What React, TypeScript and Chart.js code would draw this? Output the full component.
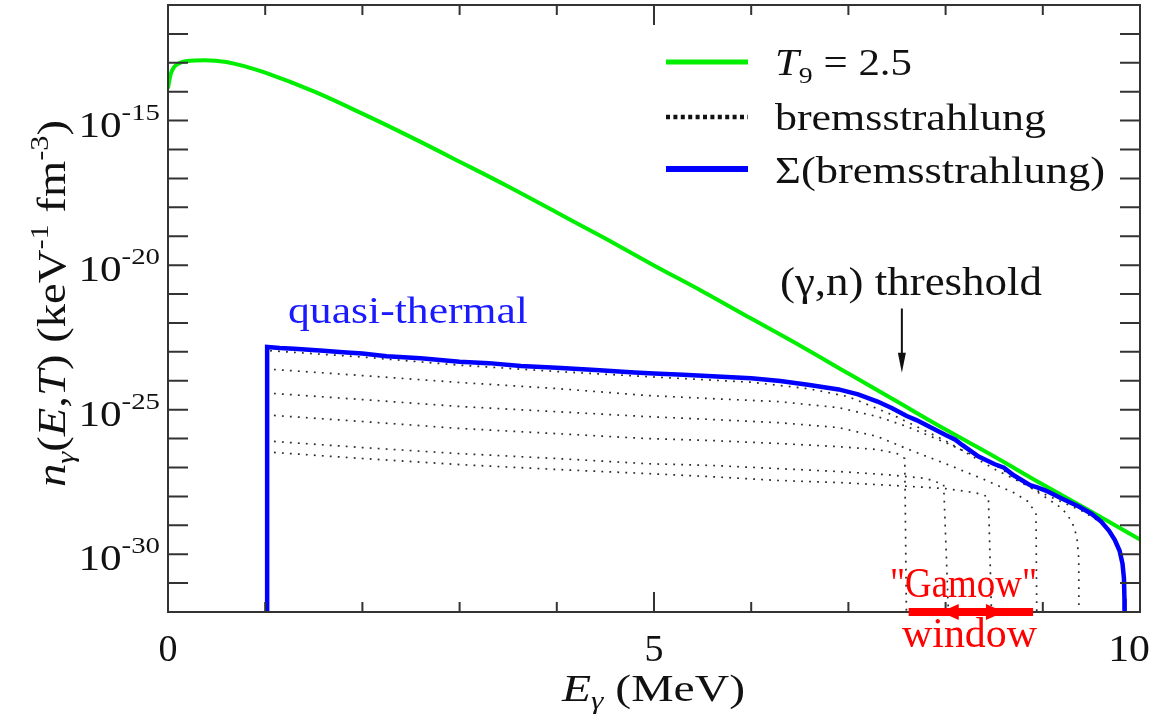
import React, { useEffect, useRef } from 'react';
import { Chart, registerables } from 'chart.js';

Chart.register(...registerables);

const SERIF = '"Liberation Serif", "Times New Roman", Times, serif';

// Axis ranges
const X_MIN = 0;
const X_MAX = 10;
const Y_MIN_EXP = -32;
const Y_MAX_EXP = -11;

// Tick labels
const xTickValues = [0, 5, 10];
const xTickLabels = ['0', '5', '10'];
const yTickExps = [-15, -20, -25, -30];

// Planck spectrum T9 = 2.5 : energy (MeV) and log10 n (keV^-1 fm^-3)
const planckE = [0.0, 0.01, 0.03, 0.06, 0.1, 0.2, 0.38, 0.6, 0.8, 1.0, 1.5, 2.0, 2.5, 3.0, 3.5, 4.0, 4.5, 5.0, 5.5, 6.0, 6.5, 7.0, 7.5, 8.0, 8.5, 9.0, 9.5, 10.0];
const planckLog = [-13.89, -13.68, -13.37, -13.16, -13.04, -12.94, -12.91, -12.97, -13.13, -13.34, -13.99, -14.76, -15.57, -16.42, -17.28, -18.18, -19.08, -20.01, -20.91, -21.85, -22.78, -23.75, -24.72, -25.69, -26.62, -27.59, -28.53, -29.49];

// Sum of bremsstrahlung spectra
const sumE = [1.02, 1.02, 1.15, 1.3, 1.45, 1.6, 1.8, 2.0, 2.25, 2.6, 3.0, 3.3, 3.63, 4.0, 4.4, 4.8, 5.0, 5.3, 5.6, 6.0, 6.3, 6.6, 6.9, 7.1, 7.3, 7.45, 7.6, 7.7, 7.83, 8.0, 8.1, 8.17, 8.34, 8.5, 8.6, 8.7, 8.87, 8.95, 9.03, 9.2, 9.37, 9.5, 9.6, 9.68, 9.74, 9.79, 9.82, 9.835, 9.84, 9.842];
const sumLog = [-33, -22.83, -22.87, -22.89, -22.93, -22.96, -23.01, -23.06, -23.15, -23.22, -23.34, -23.39, -23.49, -23.55, -23.63, -23.71, -23.75, -23.79, -23.84, -23.91, -24.01, -24.15, -24.30, -24.47, -24.72, -24.95, -25.22, -25.36, -25.58, -25.88, -26.04, -26.22, -26.62, -26.88, -27.01, -27.27, -27.61, -27.70, -27.80, -28.08, -28.35, -28.60, -28.87, -29.18, -29.50, -29.88, -30.33, -30.84, -31.54, -33];

// Individual bremsstrahlung spectra (different end-point energies)
const brems0E = [1.05, 2.0, 3.0, 4.0, 5.0, 6.0, 6.6, 7.0, 7.5, 8.0, 8.5, 9.0, 9.4, 9.6, 9.74, 9.8, 9.83, 9.84, 9.842];
const brems0Log = [-22.96, -23.18, -23.46, -23.68, -23.87, -24.05, -24.28, -24.55, -25.25, -26.08, -27.05, -27.90, -28.50, -28.90, -29.50, -29.95, -30.55, -31.50, -33];

const brems1E = [1.09, 2.0, 3.0, 4.0, 4.93, 5.6, 6.28, 6.9, 7.3, 7.6, 8.0, 8.5, 9.0, 9.2, 9.3, 9.35, 9.37, 9.372];
const brems1Log = [-23.61, -23.82, -24.06, -24.27, -24.51, -24.62, -24.72, -24.93, -25.24, -25.58, -26.14, -26.90, -27.97, -28.42, -28.87, -29.39, -30.15, -33];

const brems2E = [1.09, 2.0, 3.0, 4.0, 4.93, 5.6, 6.28, 6.9, 7.3, 7.6, 8.0, 8.4, 8.7, 8.85, 8.93, 8.94];
const brems2Log = [-24.44, -24.65, -24.89, -25.07, -25.24, -25.34, -25.45, -25.62, -25.93, -26.35, -26.87, -27.42, -27.87, -28.18, -28.60, -33];

const brems3E = [1.09, 2.0, 3.0, 4.0, 4.93, 5.6, 6.28, 6.9, 7.3, 7.5, 7.58, 7.6];
const brems3Log = [-25.20, -25.41, -25.65, -25.83, -26.00, -26.07, -26.17, -26.28, -26.38, -26.52, -26.69, -33];

const brems4E = [1.09, 2.0, 3.0, 4.0, 4.93, 5.6, 6.28, 6.9, 7.4, 7.8, 7.98, 8.04];
const brems4Log = [-26.10, -26.31, -26.52, -26.69, -26.87, -26.93, -27.04, -27.14, -27.25, -27.38, -27.59, -33];

const brems5E = [1.09, 2.0, 3.0, 4.0, 4.93, 5.6, 6.28, 6.9, 7.5, 8.0, 8.3, 8.44, 8.48];
const brems5Log = [-26.48, -26.69, -26.90, -27.07, -27.21, -27.32, -27.45, -27.52, -27.63, -27.73, -27.87, -28.01, -33];

// Annotations
const thresholdE = 7.55;
const thresholdArrowLog = [-21.5, -23.72];
const gamowWindow = [7.62, 8.9];
const gamowHeadTips = [7.95, 8.6];

type Seg = { t: string; font: string; dy?: number };

const f = (size: number, italic = false) => `${italic ? 'italic ' : ''}${size}px ${SERIF}`;

function rich(
  ctx: CanvasRenderingContext2D,
  segs: Seg[],
  x: number,
  y: number,
  color: string,
  opts: { width?: number; sx?: number; align?: 'left' | 'right' | 'center' } = {}
) {
  ctx.save();
  let w = 0;
  const ws: number[] = [];
  for (const s of segs) {
    ctx.font = s.font;
    const m = ctx.measureText(s.t).width;
    ws.push(m);
    w += m;
  }
  const sx = opts.width ? opts.width / w : opts.sx ?? 1;
  let start = x;
  if (opts.align === 'right') start = x - w * sx;
  if (opts.align === 'center') start = x - (w * sx) / 2;
  ctx.translate(start, y);
  ctx.scale(sx, 1);
  ctx.fillStyle = color;
  ctx.textBaseline = 'alphabetic';
  ctx.textAlign = 'left';
  let cx = 0;
  segs.forEach((s, i) => {
    ctx.font = s.font;
    ctx.fillText(s.t, cx, s.dy ?? 0);
    cx += ws[i];
  });
  ctx.restore();
}

const toPts = (xs: number[], ls: number[]) => xs.map((x, i) => ({ x, y: Math.pow(10, ls[i]) }));

const decorPlugin = {
  id: 'decor',
  afterDatasetsDraw(chart: any) {
    const ctx: CanvasRenderingContext2D = chart.ctx;
    const { left, right, top, bottom } = chart.chartArea;
    const xs = chart.scales.x;
    const ys = chart.scales.y;
    ctx.save();
    ctx.strokeStyle = '#333';
    ctx.lineWidth = 2;
    ctx.setLineDash([]);
    ctx.beginPath();
    for (let e = Y_MIN_EXP + 1; e < Y_MAX_EXP; e++) {
      const py = ys.getPixelForValue(Math.pow(10, e));
      ctx.moveTo(left, py);
      ctx.lineTo(left + 20, py);
      ctx.moveTo(right, py);
      ctx.lineTo(right - 20, py);
    }
    for (let v = X_MIN + 1; v < X_MAX; v++) {
      const px = xs.getPixelForValue(v);
      const len = v % 5 === 0 ? 20 : 10;
      ctx.moveTo(px, bottom);
      ctx.lineTo(px, bottom - len);
      ctx.moveTo(px, top);
      ctx.lineTo(px, top + len);
    }
    ctx.stroke();
    ctx.strokeRect(left, top, right - left, bottom - top);
    ctx.restore();

    // threshold arrow
    ctx.save();
    const ax = xs.getPixelForValue(thresholdE);
    const ay0 = ys.getPixelForValue(Math.pow(10, thresholdArrowLog[0]));
    const ay1 = ys.getPixelForValue(Math.pow(10, thresholdArrowLog[1]));
    ctx.strokeStyle = '#111';
    ctx.fillStyle = '#111';
    ctx.lineWidth = 2;
    ctx.beginPath();
    ctx.moveTo(ax, ay0);
    ctx.lineTo(ax, ay1 - 16);
    ctx.stroke();
    ctx.beginPath();
    ctx.moveTo(ax - 4, ay1 - 20);
    ctx.lineTo(ax + 4, ay1 - 20);
    ctx.lineTo(ax, ay1);
    ctx.closePath();
    ctx.fill();

    // Gamow window arrow
    const gx0 = xs.getPixelForValue(gamowWindow[0]);
    const gx1 = xs.getPixelForValue(gamowWindow[1]);
    const h1 = xs.getPixelForValue(gamowHeadTips[0]);
    const h2 = xs.getPixelForValue(gamowHeadTips[1]);
    const gy = bottom;
    ctx.fillStyle = '#ff0000';
    ctx.fillRect(gx0, gy - 4, gx1 - gx0, 8);
    ctx.beginPath();
    ctx.moveTo(h1, gy);
    ctx.lineTo(h1 + 18, gy - 8);
    ctx.lineTo(h1 + 18, gy + 8);
    ctx.closePath();
    ctx.fill();
    ctx.beginPath();
    ctx.moveTo(h2, gy);
    ctx.lineTo(h2 - 18, gy - 8);
    ctx.lineTo(h2 - 18, gy + 8);
    ctx.closePath();
    ctx.fill();
    ctx.restore();
  },
  afterDraw(chart: any) {
    const ctx: CanvasRenderingContext2D = chart.ctx;
    const xs = chart.scales.x;
    const ys = chart.scales.y;
    const ink = '#111';

    for (const e of yTickExps) {
      const py = ys.getPixelForValue(Math.pow(10, e));
      rich(ctx, [
        { t: '10', font: f(36) },
        { t: String(e), font: f(24), dy: -17 },
      ], 160, py + 16, ink, { sx: 1.2, align: 'right' });
    }
    xTickValues.forEach((v, i) => {
      const px = xs.getPixelForValue(v);
      const label = xTickLabels[i];
      if (v === X_MAX) {
        rich(ctx, [{ t: label, font: f(38) }], px + 10, 661, ink, { sx: 1.1, align: 'right' });
      } else {
        rich(ctx, [{ t: label, font: f(38) }], px, 661, ink, { sx: 1.0, align: 'center' });
      }
    });
    rich(ctx, [
      { t: 'E', font: f(38, true) },
      { t: 'γ', font: f(25, true), dy: 8 },
      { t: ' (MeV)', font: f(38) },
    ], 562, 701, ink, { width: 183 });
    ctx.save();
    ctx.translate(65, 487);
    ctx.rotate(-Math.PI / 2);
    rich(ctx, [
      { t: 'n', font: f(40, true) },
      { t: 'γ', font: f(26, true), dy: 9 },
      { t: '(', font: f(40) },
      { t: 'E', font: f(40, true) },
      { t: ',', font: f(40) },
      { t: 'T', font: f(40, true) },
      { t: ')', font: f(40) },
      { t: ' (keV', font: f(40) },
      { t: '-1', font: f(26), dy: -17 },
      { t: ' fm', font: f(40) },
      { t: '-3', font: f(26), dy: -17 },
      { t: ')', font: f(40) },
    ], 0, 0, ink, { width: 367 });
    ctx.restore();

    ctx.save();
    ctx.lineCap = 'butt';
    ctx.strokeStyle = '#00ee00';
    ctx.lineWidth = 5;
    ctx.beginPath();
    ctx.moveTo(666, 62);
    ctx.lineTo(748, 62);
    ctx.stroke();
    ctx.strokeStyle = '#111';
    ctx.lineWidth = 4.5;
    ctx.setLineDash([4, 3.4]);
    ctx.beginPath();
    ctx.moveTo(666, 117);
    ctx.lineTo(748, 117);
    ctx.stroke();
    ctx.setLineDash([]);
    ctx.strokeStyle = '#0000ff';
    ctx.lineWidth = 6;
    ctx.beginPath();
    ctx.moveTo(666, 169);
    ctx.lineTo(748, 169);
    ctx.stroke();
    ctx.restore();
    rich(ctx, [
      { t: 'T', font: f(37, true) },
      { t: '9', font: f(24), dy: 8 },
      { t: ' = 2.5', font: f(37) },
    ], 775, 75, ink, { width: 137 });
    rich(ctx, [{ t: 'bremsstrahlung', font: f(37) }], 775, 130, ink, { width: 271 });
    rich(ctx, [{ t: 'Σ(bremsstrahlung)', font: f(37) }], 775, 183, ink, { width: 330 });

    rich(ctx, [{ t: 'quasi-thermal', font: f(38) }], 288, 323, '#1a1aff', { width: 240 });
    rich(ctx, [{ t: '(γ,n) threshold', font: f(40) }], 780, 295, ink, { width: 262 });
    rich(ctx, [{ t: '"Gamow"', font: f(42) }], 890, 597, '#ff0000', { width: 147 });
    rich(ctx, [{ t: 'window', font: f(43) }], 902, 647, '#ff0000', { width: 135 });
  },
};

export default function App() {
  const ref = useRef<HTMLCanvasElement>(null);
  useEffect(() => {
    if (!ref.current) return;
    const dotted = (xs: number[], ls: number[]) => ({
      data: toPts(xs, ls),
      borderColor: '#2a2a2a',
      borderWidth: 1.7,
      borderDash: [1.8, 6.2],
      pointRadius: 0,
      tension: 0,
      order: 3,
    });
    const chart = new Chart(ref.current, {
      type: 'line',
      data: {
        datasets: [
          {
            data: toPts(sumE, sumLog),
            borderColor: '#0000ff',
            borderWidth: 4.5,
            pointRadius: 0,
            tension: 0,
            order: 1,
          } as any,
          {
            data: toPts(planckE, planckLog),
            borderColor: '#00ee00',
            borderWidth: 4,
            pointRadius: 0,
            cubicInterpolationMode: 'monotone',
            order: 2,
          } as any,
          dotted(brems0E, brems0Log),
          dotted(brems1E, brems1Log),
          dotted(brems2E, brems2Log),
          dotted(brems3E, brems3Log),
          dotted(brems4E, brems4Log),
          dotted(brems5E, brems5Log),
        ],
      },
      options: {
        animation: false,
        responsive: false,
        maintainAspectRatio: false,
        layout: { padding: { left: 168, right: 17, top: 5, bottom: 108 } },
        plugins: { legend: { display: false }, tooltip: { enabled: false } },
        scales: {
          x: { type: 'linear', min: X_MIN, max: X_MAX, display: false },
          y: { type: 'logarithmic', min: Math.pow(10, Y_MIN_EXP), max: Math.pow(10, Y_MAX_EXP), display: false },
        },
      },
      plugins: [decorPlugin],
    });
    return () => chart.destroy();
  }, []);
  return (
    <div style={{ position: 'absolute', left: 0, top: 0, width: 1157, height: 720, background: '#fff' }}>
      <canvas ref={ref} width={1157} height={720} style={{ width: 1157, height: 720, display: 'block' }} />
    </div>
  );
}
